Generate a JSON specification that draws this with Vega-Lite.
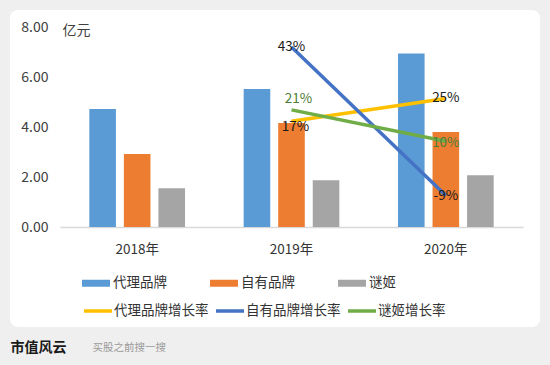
{
  "$schema": "https://vega.github.io/schema/vega-lite/v6.json",
  "autosize": {"type": "none"},
  "width": 530,
  "height": 317,
  "padding": {"left": 10, "top": 10, "right": 10, "bottom": 38},
  "background": "#efefef",
  "config": {
    "font": "Noto Sans CJK SC",
    "view": {"stroke": null, "fill": "white", "cornerRadius": 8},
    "axis": {"grid": false, "ticks": false}
  },
  "datasets": {
    "bars": [
      {"year": "2018年", "series": "代理品牌", "value": 4.72},
      {"year": "2018年", "series": "自有品牌", "value": 2.92},
      {"year": "2018年", "series": "谜姬", "value": 1.55},
      {"year": "2019年", "series": "代理品牌", "value": 5.52},
      {"year": "2019年", "series": "自有品牌", "value": 4.16},
      {"year": "2019年", "series": "谜姬", "value": 1.87},
      {"year": "2020年", "series": "代理品牌", "value": 6.94},
      {"year": "2020年", "series": "自有品牌", "value": 3.80},
      {"year": "2020年", "series": "谜姬", "value": 2.07}
    ],
    "rates": [
      {"year": "2019年", "series": "代理品牌增长率", "rate": 0.17, "label": "17%"},
      {"year": "2020年", "series": "代理品牌增长率", "rate": 0.25, "label": "25%"},
      {"year": "2019年", "series": "自有品牌增长率", "rate": 0.43, "label": "43%"},
      {"year": "2020年", "series": "自有品牌增长率", "rate": -0.09, "label": "-9%"},
      {"year": "2019年", "series": "谜姬增长率", "rate": 0.21, "label": "21%"},
      {"year": "2020年", "series": "谜姬增长率", "rate": 0.10, "label": "10%"}
    ]
  },
  "resolve": {"scale": {"y": "independent"}},
  "layer": [
    {
      "data": {"name": "bars"},
      "mark": {"type": "bar"},
      "encoding": {
        "x": {
          "field": "year", "type": "nominal",
          "scale": {"domain": ["2018年", "2019年", "2020年"], "range": [50, 513], "paddingInner": 0.38, "paddingOuter": 0.19},
          "axis": {
            "offset": -100, "labelAngle": 0, "labelFontSize": 13.5, "labelColor": "#333333", "labelPadding": 15,
            "domain": true, "domainColor": "#d9d9d9", "domainWidth": 1.5,
            "title": "买股之前搜一搜", "titleX": 82, "titleY": 120, "titleAlign": "left", "titleBaseline": "middle",
            "titleFontSize": 10.5, "titleFontWeight": "normal", "titleColor": "#9a9a9a"
          }
        },
        "xOffset": {"field": "series", "type": "nominal", "sort": ["代理品牌", "自有品牌", "谜姬"], "scale": {"paddingInner": 0.23, "paddingOuter": 0}},
        "y": {
          "field": "value", "type": "quantitative",
          "scale": {"domain": [0, 8], "range": [217, 17], "nice": false},
          "axis": {
            "offset": -50, "values": [0, 2, 4, 6, 8], "format": ".2f", "domain": false,
            "labelFontSize": 14, "labelColor": "#404040", "labelPadding": 12,
            "title": "亿元", "titleAngle": 0, "titleX": 2, "titleY": 20, "titleAlign": "left", "titleBaseline": "middle",
            "titleFontSize": 14, "titleFontWeight": "normal", "titleColor": "#404040"
          }
        },
        "fill": {
          "field": "series", "type": "nominal",
          "scale": {"domain": ["代理品牌", "自有品牌", "谜姬"], "range": ["#5B9BD5", "#ED7D31", "#A5A5A5"]},
          "legend": {
            "orient": "none", "legendX": 72, "legendY": 259, "direction": "horizontal", "columns": 3, "title": null,
            "symbolType": "M-1,-0.25H1V0.25H-1Z", "symbolSize": 784, "symbolStrokeWidth": 0,
            "labelFontSize": 13.5, "labelOffset": 3, "columnPadding": 43, "padding": 0, "labelColor": "#333333"
          }
        }
      }
    },
    {
      "data": {"name": "rates"},
      "encoding": {
        "x": {"field": "year", "type": "nominal"},
        "y": {
          "field": "rate", "type": "quantitative",
          "scale": {"domain": [-0.2, 0.5], "range": [217, 17], "nice": false, "zero": false},
          "axis": {
            "orient": "right", "labels": false, "domain": false, "ticks": false, "grid": false,
            "title": "市值风云", "titleAngle": 0, "titleX": -530, "titleY": 337, "titleAlign": "left", "titleBaseline": "middle",
            "titleFontSize": 14, "titleFontWeight": "bold", "titleColor": "#1a1a1a"
          }
        }
      },
      "layer": [
        {
          "mark": {"type": "line", "strokeWidth": 3.5},
          "encoding": {
            "stroke": {
              "field": "series", "type": "nominal",
              "scale": {"domain": ["代理品牌增长率", "自有品牌增长率", "谜姬增长率"], "range": ["#FFC000", "#4472C4", "#70AD47"]},
              "legend": {
                "orient": "none", "legendX": 72, "legendY": 285, "direction": "horizontal", "columns": 3, "title": null,
                "symbolType": "stroke", "symbolSize": 784, "symbolStrokeWidth": 3.5,
                "labelFontSize": 13.5, "labelOffset": 0, "columnPadding": 0, "padding": 0, "labelColor": "#333333"
              }
            }
          }
        },
        {
          "transform": [{"filter": "datum.series !== '谜姬增长率' && !(datum.series === '代理品牌增长率' && datum.year === '2019年')"}],
          "mark": {"type": "text", "fontSize": 13.5, "color": "#1a1a1a"},
          "encoding": {"text": {"field": "label"}}
        },
        {
          "transform": [{"filter": "datum.series === '代理品牌增长率' && datum.year === '2019年'"}],
          "mark": {"type": "text", "fontSize": 13.5, "color": "#1a1a1a", "dx": 4, "dy": 6},
          "encoding": {"text": {"field": "label"}}
        },
        {
          "transform": [{"filter": "datum.series === '谜姬增长率' && datum.year === '2019年'"}],
          "mark": {"type": "text", "fontSize": 13.5, "color": "#4E7D38", "dx": 7, "dy": -11},
          "encoding": {"text": {"field": "label"}}
        },
        {
          "transform": [{"filter": "datum.series === '谜姬增长率' && datum.year === '2020年'"}],
          "mark": {"type": "text", "fontSize": 13.5, "color": "#4E7D38", "dy": 2},
          "encoding": {"text": {"field": "label"}}
        }
      ]
    }
  ]
}
